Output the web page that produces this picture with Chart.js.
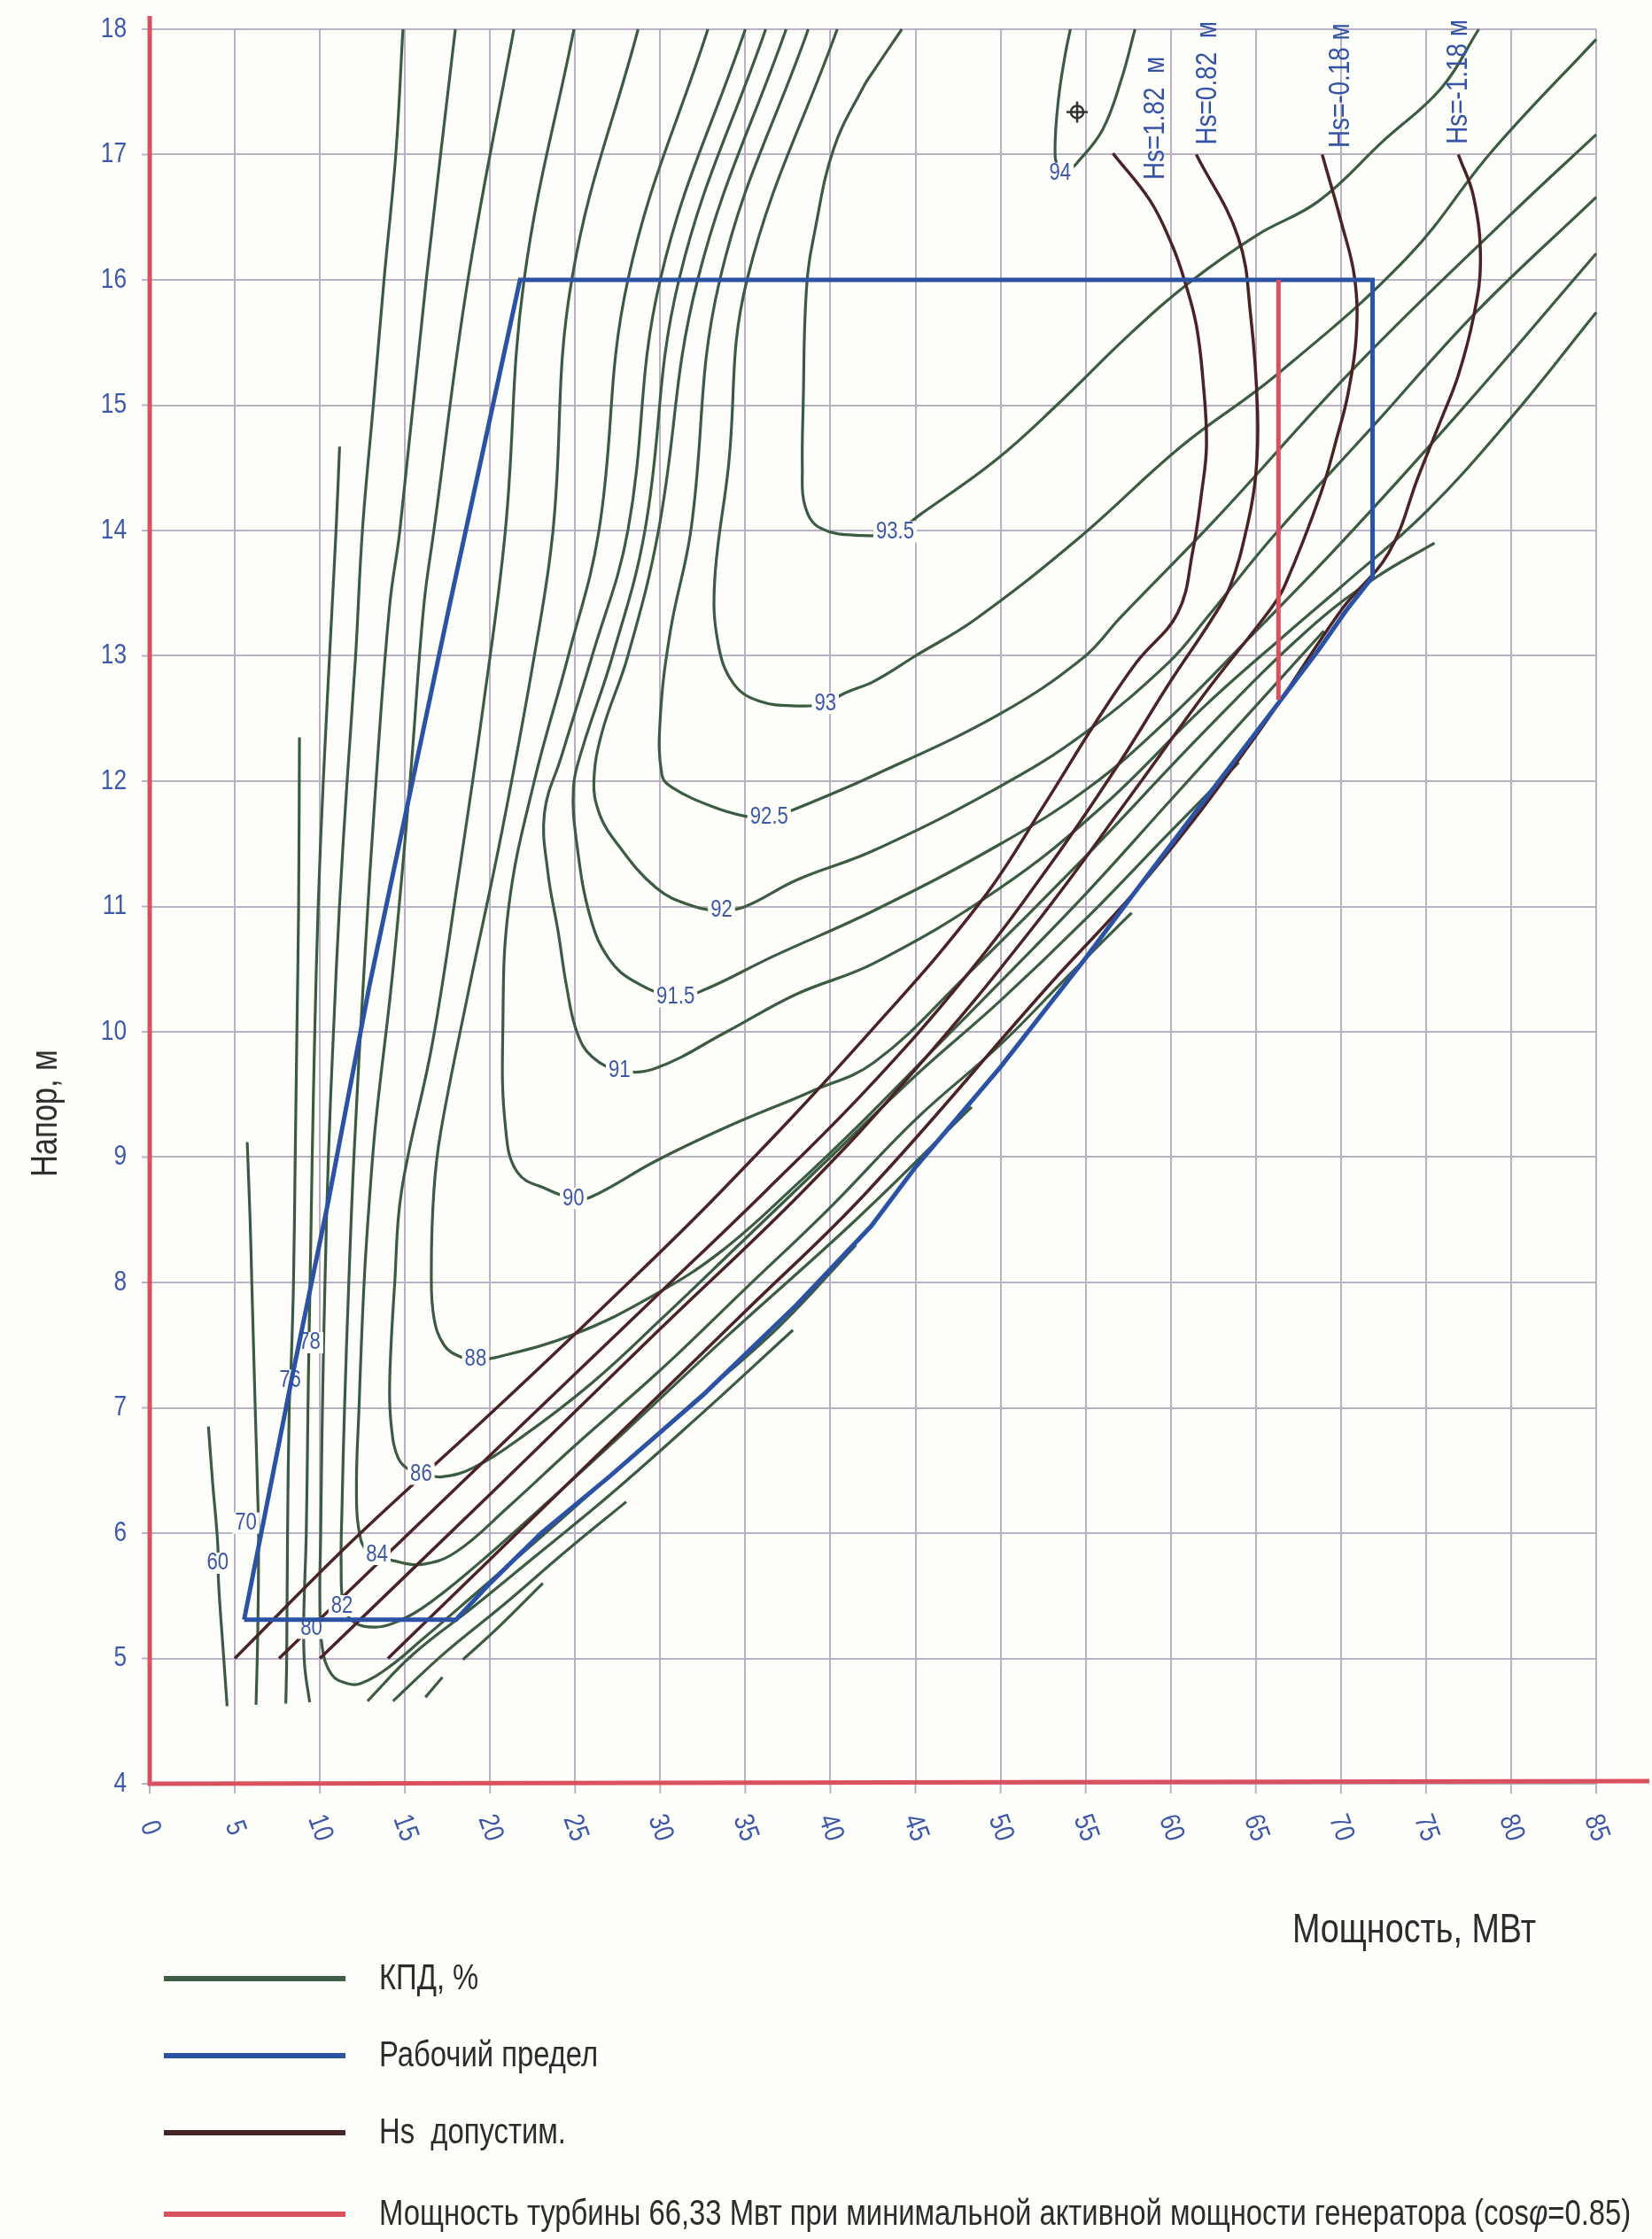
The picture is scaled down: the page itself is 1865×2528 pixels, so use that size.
<!DOCTYPE html>
<html><head><meta charset="utf-8">
<script src="https://cdn.jsdelivr.net/npm/chart.js@4.4.1/dist/chart.umd.min.js"></script>
<style>
html,body{margin:0;padding:0;background:#fefefb;}
#wrap{position:relative;width:1865px;height:2528px;overflow:hidden;background:#fefefb;}
canvas{position:absolute;left:0;top:0;}
.t{position:absolute;font-family:"Liberation Sans",Arial,sans-serif;color:#2c2c2c;white-space:nowrap;}
.sq{display:inline-block;transform:scaleX(0.82);transform-origin:0 50%;}
.legline{position:absolute;left:185px;width:205px;height:6px;}
</style></head><body>
<div id="wrap">
<canvas id="c" width="1865" height="2528"></canvas>
<div class="t" id="ytitle" style="left:50px;top:1257px;font-size:42px;transform:translate(-50%,-50%) rotate(-90deg) scaleX(0.82);">Напор, м</div>
<div class="t" style="left:1459px;top:2150px;font-size:46px;"><span class="sq">Мощность, МВт</span></div>
<div class="legline" style="top:2231px;background:#3e5e46;"></div>
<div class="t" style="left:428px;top:2210px;font-size:40px;"><span class="sq">КПД, %</span></div>
<div class="legline" style="top:2318px;background:#2c52a4;"></div>
<div class="t" style="left:428px;top:2297px;font-size:40px;"><span class="sq">Рабочий предел</span></div>
<div class="legline" style="top:2405px;background:#4a2327;"></div>
<div class="t" style="left:428px;top:2384px;font-size:40px;"><span class="sq">Hs&nbsp; допустим.</span></div>
<div class="legline" style="top:2497px;background:#d9505f;"></div>
<div class="t" style="left:428px;top:2476px;font-size:40px;"><span class="sq">Мощность турбины 66,33 Мвт при минимальной активной мощности генератора (cos<i>φ</i>=0.85)</span></div>
</div>
<script>
// ---- axis ticks ----
const xTicks = [0,5,10,15,20,25,30,35,40,45,50,55,60,65,70,75,80,85];
const yTicks = [4,5,6,7,8,9,10,11,12,13,14,15,16,17,18];

// ---- Рабочий предел (operating limit) ----
const workLimit = [[5.55,5.31],[18.0,5.31],[20,5.6],[23,6.0],[27,6.45],[32.5,7.1],[38,7.82],[42.4,8.45],[45,8.92],[50,9.72],[54.9,10.57],[57.7,11.08],[62.6,11.96],[66.2,12.6],[68.7,13.05],[70.3,13.36],[71.86,13.63],[71.86,16.0],[21.76,16.0],[17.6,13.39],[12.9,10.36],[10.5,8.65],[8.3,7.2],[5.55,5.31]];
// ---- turbine power 66.33 MW ----
const turbineLine = [[66.33,12.65],[66.33,16.0]];

// ---- Hs allowed ----
const hs182 = [[5,5],[12,5.95],[20,6.95],[27,7.85],[33.6,8.73],[42.2,9.98],[48.9,11.05],[52.7,11.84],[55.5,12.45],[58,12.95],[60.4,13.34],[61.3,13.84],[61.8,14.29],[62.1,14.68],[61.9,15.19],[61.5,15.64],[60.8,16.0],[60.1,16.27],[58.8,16.63],[56.6,17.01]];
const hs082 = [[7.6,5],[20,6.62],[30,7.92],[36.2,8.73],[42.2,9.55],[48,10.45],[53,11.35],[57,12.15],[60,12.8],[62.4,13.29],[63.5,13.56],[64.5,14.04],[65.0,14.45],[65.1,14.95],[64.7,15.71],[63.96,16.34],[61.5,17.0]];
const hs018 = [[10,5],[20,6.31],[30,7.63],[38.4,8.73],[45,9.7],[52,10.85],[58,11.95],[62,12.7],[65.9,13.38],[66.7,13.56],[68.8,14.29],[69.8,14.76],[70.4,15.08],[70.9,15.55],[70.8,16.02],[70.0,16.47],[68.9,17.0]];
const hs118 = [[14,5],[25,6.45],[35,7.77],[42.2,8.73],[52.7,10.35],[58.8,11.26],[65.1,12.38],[70.1,13.38],[72.8,13.82],[74.6,14.45],[75.9,14.89],[76.9,15.24],[77.8,15.71],[78.2,16.15],[77.8,16.66],[76.9,17.0]];

// ---- КПД contours ----
const kpd60 = [[3.45,6.85],[3.7,6.4],[4.0,5.91],[4.04,5.62],[4.3,5.1],[4.55,4.62]];
const kpd70 = [[5.73,9.12],[5.9,8.5],[6.0,8.0],[6.2,7.0],[6.36,6.24],[6.4,5.95],[6.35,5.2],[6.25,4.63]];
const kpd76 = [[8.8,12.35],[8.75,11],[8.65,10],[8.55,9],[8.45,8],[8.3,7.3],[8.2,7.0],[8.1,6],[8.05,5],[8.0,4.64]];
const kpd78 = [[11.16,14.67],[10.95,14],[10.7,13.34],[10.2,12],[9.9,11],[9.7,10],[9.55,9],[9.45,8.2],[9.37,7.6],[9.3,7],[9.2,6],[9.05,5.3],[9.1,4.95],[9.4,4.65]];
const kpd80 = [[14.88,18],[14.46,17],[13.77,16],[13.14,15],[12.5,14],[12.1,13],[11.6,12],[11.15,11],[10.8,10],[10.5,9],[10.3,8],[10.15,7],[10.05,6],[10.0,5.45],[10.15,5.08],[10.7,4.87],[11.6,4.8],[12.4,4.8],[14.05,4.93],[16,5.15],[19,5.5],[23,5.97],[27,6.45],[32,7.05],[37,7.65],[41.5,8.3]];
const kpd82 = [[17.96,18],[16.25,16],[14.7,14],[14.1,13.4],[13.3,12],[12.6,10.5],[12.0,9],[11.7,8],[11.45,7],[11.3,6.2],[11.25,5.75],[11.4,5.42],[12.0,5.29],[13.2,5.25],[14.3,5.28],[16,5.4],[19,5.72],[23,6.2],[28,6.82],[34,7.58],[41.5,8.5],[48.3,9.4]];
const kpd84 = [[21.4,18],[18.7,16],[16.7,14],[16.1,13.39],[15.3,12],[14.3,10.5],[13.3,9.3],[12.95,8.73],[12.6,8],[12.3,7],[12.15,6.3],[12.4,5.95],[12.9,5.84],[13.4,5.82],[14.3,5.78],[16,5.75],[18,5.85],[21,6.2],[25,6.7],[30,7.3],[35,7.95],[40,8.6],[45,9.3],[50,9.9],[54,10.45],[57.7,10.95]];
const kpd86 = [[24.93,18],[22.0,16],[20.9,14],[19.6,12.6],[18.1,11.2],[16.6,9.9],[14.8,8.73],[14.4,8],[14.1,7.2],[14.2,6.85],[14.6,6.6],[15.3,6.5],[16,6.47],[17.2,6.45],[19,6.52],[22,6.78],[26,7.2],[30,7.7],[35,8.35],[40,9.0],[45,9.65],[50,10.25],[55,10.9],[60,11.6],[64,12.15]];
const kpd88 = [[28.7,18],[24.8,16],[23.7,14],[22.6,13],[20.7,11.6],[18.7,10.3],[17.1,9.2],[16.7,8.73],[16.55,8.1],[16.7,7.72],[17.3,7.5],[18.2,7.41],[19.15,7.39],[20.3,7.4],[25,7.59],[29.65,7.9],[33.6,8.25],[38,8.78],[42,9.3],[46,9.85],[50,10.4],[55,11.1],[60,11.85],[65,12.6],[69,13.2]];
const kpd90 = [[32.8,18],[28.1,16],[26.4,14],[24.6,13],[22.6,12],[21.1,11],[20.75,10],[20.9,9.25],[21.6,8.88],[23.4,8.74],[24.9,8.67],[25.9,8.68],[29.75,8.97],[33.9,9.24],[38.8,9.52],[42.6,9.76],[48,10.45],[55,11.4],[62,12.4],[68,13.2],[72,13.62],[75.5,13.9]];
const kpd91 = [[35.0,18],[30.0,16],[28.1,14],[26.0,13],[24.2,12.2],[23.2,11.75],[23.4,11.27],[24.0,10.8],[24.5,10.36],[25.1,10.0],[26.0,9.8],[27.7,9.69],[29.75,9.71],[33.9,10.0],[38,10.3],[42.6,10.55],[50,11.15],[56,11.8],[62,12.6],[67,13.2],[70,13.55],[75,14.15],[80,14.9],[85,15.74]];
const kpd915 = [[36.2,18],[31.1,16],[29.1,14],[27.2,13],[25.4,12.25],[24.9,11.95],[25.1,11.5],[25.9,10.91],[27.0,10.58],[28.5,10.4],[30.9,10.28],[32.5,10.33],[36.6,10.6],[42.6,10.97],[50,11.5],[55.2,11.95],[59.9,12.5],[64.3,13.1],[70,13.9],[77,14.95],[85,16.21]];
const kpd92 = [[37.4,18],[32.2,16],[29.9,14],[28.1,13],[26.6,12.4],[26.1,12.0],[26.4,11.75],[27.2,11.55],[29.75,11.15],[32.0,11.0],[33.6,10.97],[35,11.0],[38,11.21],[42.6,11.45],[50,11.96],[54.9,12.38],[59.9,12.95],[62.1,13.3],[66,13.95],[72,14.85],[78,15.75],[85,16.66]];
const kpd925 = [[38.7,18],[33.5,16],[31.8,14],[30.6,13.2],[30.0,12.5],[30.1,12.05],[30.7,11.95],[33,11.8],[35.0,11.72],[36.4,11.71],[37.6,11.76],[42.6,12.05],[50,12.54],[54.9,12.99],[57,13.3],[62.7,14.1],[70.8,15.3],[80.2,16.55],[85,17.16]];
const kpd93 = [[40.4,18],[35.1,16],[34.0,14.5],[33.2,13.6],[33.4,13.1],[34.3,12.78],[35.8,12.64],[38.2,12.6],[39.7,12.62],[40.8,12.7],[42.6,12.8],[45,13.0],[48.5,13.29],[54.6,13.94],[60.6,14.67],[66.2,15.24],[73.9,16.18],[78.9,17.03],[85,17.92]];
const kpd935 = [[44.2,18],[42.6,17.68],[41.9,17.53],[40.2,17.05],[39.1,16.4],[38.6,15.94],[38.4,15],[38.35,14.5],[38.5,14.2],[39.4,14.02],[41.9,13.96],[43.8,13.99],[45.3,14.13],[49.7,14.56],[53.3,15.0],[57.7,15.58],[61.3,16.0],[65.1,16.36],[68.7,16.63],[72.5,17.11],[75.9,17.53],[78.1,18]];
const kpd94 = [[54.1,18],[53.8,17.8],[53.4,17.44],[53.2,17.04],[53.4,16.9],[54.0,16.88],[54.6,16.95],[56.0,17.2],[57.1,17.6],[57.9,18]];
// right-hand branches of the low-efficiency contours
const kpd78r = [[12.8,4.66],[15.45,5.03],[19.1,5.42],[22.7,5.82],[27,6.3],[32,6.9],[37.8,7.62]];
const kpd76r = [[14.3,4.66],[17.3,5.04],[20.9,5.44],[24.5,5.86],[28,6.25]];
const kpd70r = [[16.2,4.69],[17.2,4.85]];
const kpd60r = [[18.4,4.99],[20.5,5.25],[23.1,5.6]];

const kpdLabels = [["60",4.0,5.76],["70",5.65,6.08],["76",8.25,7.22],["78",9.4,7.52],["80",9.5,5.24],["82",11.3,5.42],["84",13.36,5.83],["86",15.95,6.47],["88",19.15,7.39],["90",24.9,8.67],["91",27.6,9.69],["91.5",30.9,10.28],["92",33.6,10.97],["92.5",36.4,11.71],["93",39.7,12.62],["93.5",43.8,13.99],["94",53.5,16.85]];
const hsLabels = [["Hs=1.82  м",59.1,17.29],["Hs=0.82  м",62.2,17.57],["Hs=-0.18 м",70.0,17.55],["Hs=-1.18 м",76.9,17.58]];
const markerPoint = [54.5,17.34];

// ---- build chart ----
const GREEN = '#3b5c41', MAROON = '#4b2327', BLUE = '#2c52a4', RED = '#d9505f', BG = '#fefefb';
const LBL = '#3e58a8';
const GRID = '#bbb1c6';
const FONT = '"Liberation Sans", Arial, sans-serif';
function ds(arr, color, width, tension){
  return {data: arr.map(p => ({x:p[0], y:p[1]})), borderColor: color, borderWidth: width,
          showLine: true, pointRadius: 0, fill: false, tension: tension, clip: 10};
}
const greens = [kpd60,kpd70,kpd76,kpd78,kpd80,kpd82,kpd84,kpd86,kpd88,kpd90,kpd91,kpd915,kpd92,kpd925,kpd93,kpd935,kpd94,kpd78r,kpd76r,kpd70r,kpd60r];
const datasets = [
  ds(turbineLine, RED, 5, 0),
  ds(workLimit, BLUE, 5, 0),
  ds(hs182, MAROON, 3.5, 0.4), ds(hs082, MAROON, 3.5, 0.4), ds(hs018, MAROON, 3.5, 0.4), ds(hs118, MAROON, 3.5, 0.4),
  ...greens.map(g => ds(g, GREEN, 3.2, 0.4))
];

function sqText(ctx, text, x, y, rot, align){
  ctx.save();
  ctx.translate(x, y);
  if (rot) ctx.rotate(rot);
  ctx.scale(0.82, 1);
  ctx.textAlign = align || 'center';
  ctx.textBaseline = 'middle';
  ctx.fillText(text, 0, 0);
  ctx.restore();
}

const decor = {
  id: 'decor',
  beforeDatasetDraw(chart, args){
    if (args.index !== 1) return;  // after greens & maroons, before blue/red
    const ctx = chart.ctx, sx = chart.scales.x, sy = chart.scales.y;
    ctx.save();
    ctx.font = '27px ' + FONT;
    for (const [t, v, h] of kpdLabels){
      const x = sx.getPixelForValue(v), y = sy.getPixelForValue(h);
      const w = ctx.measureText(t).width * 0.82;
      ctx.fillStyle = BG;
      ctx.fillRect(x - w/2 - 3, y - 12, w + 6, 24);
      ctx.fillStyle = LBL;
      sqText(ctx, t, x, y, 0, 'center');
    }
    ctx.restore();
  },
  afterDraw(chart){
    const ctx = chart.ctx, sx = chart.scales.x, sy = chart.scales.y;
    const ca = chart.chartArea;
    ctx.save();
    // tick marks
    ctx.strokeStyle = GRID; ctx.lineWidth = 2;
    for (const v of xTicks){ const x = sx.getPixelForValue(v); ctx.beginPath(); ctx.moveTo(x, ca.bottom); ctx.lineTo(x, ca.bottom + 11); ctx.stroke(); }
    for (const h of yTicks){ const y = sy.getPixelForValue(h); ctx.beginPath(); ctx.moveTo(ca.left - 9, y); ctx.lineTo(ca.left, y); ctx.stroke(); }
    // red axes
    ctx.strokeStyle = RED; ctx.lineWidth = 5;
    ctx.beginPath(); ctx.moveTo(ca.left, 18); ctx.lineTo(ca.left, ca.bottom + 2); ctx.stroke();
    ctx.beginPath(); ctx.moveTo(ca.left - 2, ca.bottom); ctx.lineTo(1862, ca.bottom - 3); ctx.stroke();
    // tick labels
    ctx.fillStyle = LBL;
    ctx.font = '32px ' + FONT;
    for (const h of yTicks){ sqText(ctx, String(h), 143, sy.getPixelForValue(h), 0, 'right'); }
    for (const v of xTicks){ sqText(ctx, String(v), sx.getPixelForValue(v), 2064, 70*Math.PI/180, 'center'); }
    // Hs labels
    ctx.font = '34px ' + FONT;
    ctx.fillStyle = '#3553a5';
    for (const [t, v, h] of hsLabels){ sqText(ctx, t, sx.getPixelForValue(v), sy.getPixelForValue(h), -Math.PI/2, 'center'); }
    // marker
    const mx = sx.getPixelForValue(markerPoint[0]), my = sy.getPixelForValue(markerPoint[1]);
    ctx.strokeStyle = '#333'; ctx.lineWidth = 2.5;
    ctx.beginPath(); ctx.arc(mx, my, 7, 0, Math.PI*2); ctx.stroke();
    ctx.beginPath(); ctx.moveTo(mx - 12, my); ctx.lineTo(mx + 12, my); ctx.moveTo(mx, my - 12); ctx.lineTo(mx, my + 12); ctx.stroke();
    ctx.restore();
  }
};

new Chart(document.getElementById('c'), {
  type: 'scatter',
  data: { datasets },
  options: {
    responsive: false, devicePixelRatio: 1, animation: false,
    layout: { padding: { left: 169, right: 63, top: 33, bottom: 514 } },
    plugins: { legend: { display: false }, tooltip: { enabled: false } },
    scales: {
      x: { type: 'linear', min: 0, max: 85, ticks: { display: false, stepSize: 5 },
           grid: { color: GRID, lineWidth: 2, drawTicks: false }, border: { display: false },
           afterFit(s){ s.height = 0; } },
      y: { type: 'linear', min: 4, max: 18, ticks: { display: false, stepSize: 1 },
           grid: { color: GRID, lineWidth: 2, drawTicks: false }, border: { display: false },
           afterFit(s){ s.width = 0; } }
    }
  },
  plugins: [decor]
});
</script>
</body></html>
